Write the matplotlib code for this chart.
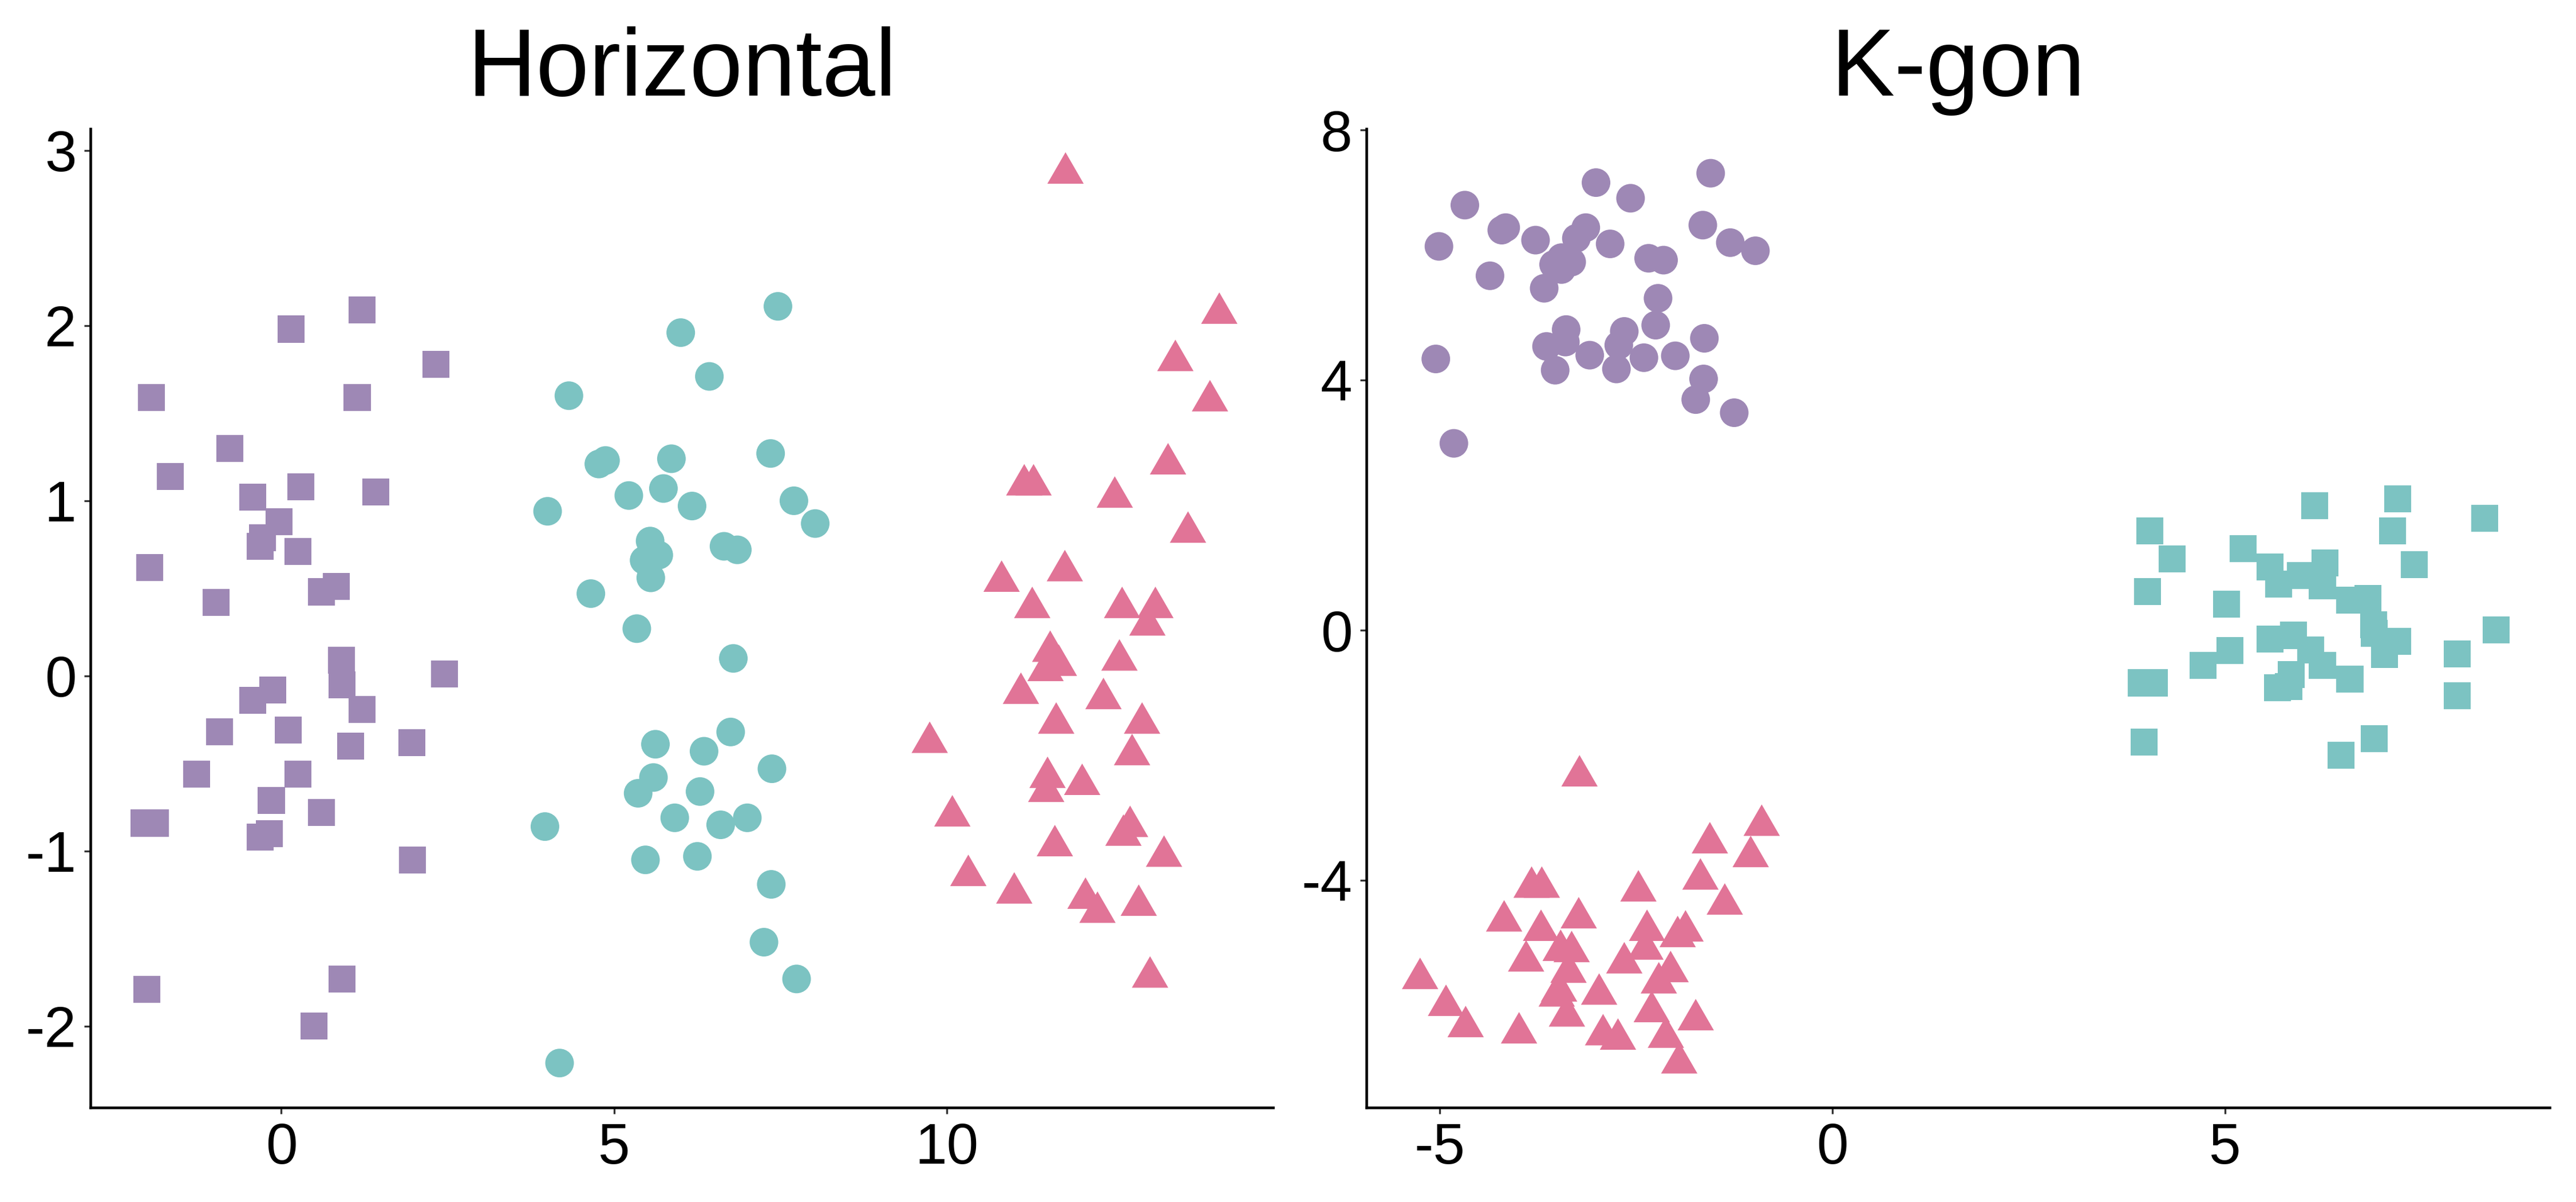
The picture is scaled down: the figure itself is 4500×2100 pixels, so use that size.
import numpy as np
import matplotlib
matplotlib.use("Agg")
import matplotlib.pyplot as plt
from matplotlib.path import Path

plt.rcParams['font.family'] = ['Liberation Sans', 'DejaVu Sans']

# ---------------- data ----------------
titles = ["Horizontal", "K-gon"]

# Horizontal panel
h_sq_x = [-1.95, 0.15, 1.21, 2.32, 1.14, -0.77, -1.67, -0.43, 0.29, 1.42, -0.03, -0.28, -0.32, 0.25,
          -1.98, -0.98, 0.60, 0.83, 0.90, 0.91, 2.45, -0.13, -0.43, 1.21, 0.10, -0.93, 1.04, 1.96,
          -1.27, 0.25, -0.15, 0.60, -2.06, -1.89, -0.18, -0.32, 1.97, -2.02, 0.91, 0.49]
h_sq_y = [1.59, 1.98, 2.09, 1.78, 1.59, 1.30, 1.14, 1.02, 1.08, 1.05, 0.88, 0.79, 0.74, 0.71,
          0.62, 0.42, 0.48, 0.51, 0.09, -0.05, 0.01, -0.08, -0.14, -0.19, -0.31, -0.32, -0.40, -0.38,
          -0.56, -0.56, -0.71, -0.78, -0.84, -0.84, -0.90, -0.92, -1.05, -1.79, -1.73, -2.00]

h_ci_x = [7.46, 6.00, 6.43, 4.32, 7.35, 4.77, 4.87, 5.86, 5.22, 5.74, 6.17, 7.70, 8.02, 4.00,
          5.54, 5.67, 5.45, 5.55, 6.65, 6.85, 4.65, 5.34, 6.79, 6.75, 5.62, 6.35, 7.37, 5.59,
          5.36, 6.29, 5.91, 6.60, 7.00, 3.96, 5.47, 6.25, 7.36, 7.25, 7.74, 4.18]
h_ci_y = [2.11, 1.96, 1.71, 1.60, 1.27, 1.21, 1.23, 1.24, 1.03, 1.07, 0.97, 1.00, 0.87, 0.94,
          0.77, 0.69, 0.66, 0.56, 0.74, 0.72, 0.47, 0.27, 0.10, -0.32, -0.39, -0.43, -0.53, -0.58,
          -0.67, -0.66, -0.81, -0.85, -0.81, -0.86, -1.05, -1.03, -1.19, -1.52, -1.73, -2.21]

h_tr_x = [11.78, 14.09, 13.43, 13.95, 13.32, 11.16, 11.30, 12.52, 13.62, 10.82, 11.77, 11.28, 12.63,
          13.13, 13.01, 11.55, 11.68, 11.48, 12.59, 11.11, 12.35, 9.74, 11.64, 12.93, 12.78, 11.51,
          11.49, 12.03, 10.08, 11.62, 12.75, 12.65, 13.26, 10.32, 11.01, 12.08, 12.26, 12.88, 13.05]
h_tr_y = [2.87, 2.07, 1.80, 1.57, 1.21, 1.09, 1.09, 1.02, 0.82, 0.54, 0.60, 0.39, 0.39,
          0.39, 0.29, 0.14, 0.06, 0.03, 0.09, -0.10, -0.13, -0.38, -0.27, -0.27, -0.45, -0.58,
          -0.66, -0.62, -0.80, -0.97, -0.86, -0.91, -1.03, -1.14, -1.24, -1.27, -1.35, -1.31, -1.72]

# K-gon panel
k_ci_x = [-1.55, -3.01, -2.57, -4.68, -1.65, -4.16, -4.21, -3.78, -3.14, -3.26, -2.83, -5.01, -1.30,
          -0.98, -2.34, -2.15, -3.45, -3.32, -3.55, -3.45, -4.36, -3.67, -2.22, -2.25, -3.39, -2.65,
          -1.63, -3.64, -3.40, -2.72, -3.09, -5.05, -2.40, -2.00, -3.53, -2.75, -1.64, -1.74, -1.25, -4.82]
k_ci_y = [7.31, 7.16, 6.91, 6.80, 6.48, 6.44, 6.40, 6.24, 6.44, 6.27, 6.18, 6.14, 6.20,
          6.07, 5.95, 5.92, 5.96, 5.89, 5.85, 5.77, 5.67, 5.47, 5.31, 4.88, 4.81, 4.78,
          4.67, 4.54, 4.61, 4.56, 4.40, 4.34, 4.36, 4.39, 4.16, 4.18, 4.02, 3.69, 3.48, 2.99]

k_tr_x = [-3.22, -0.90, -1.56, -1.04, -1.68, -3.83, -3.70, -2.47, -1.37, -4.18, -3.23, -3.71, -2.36,
          -1.87, -1.97, -3.46, -3.32, -3.90, -2.65, -2.38, -3.36, -2.06, -2.21, -5.25, -2.97, -3.48,
          -3.51, -3.38, -4.92, -2.30, -1.74, -4.67, -3.99, -2.92, -2.73, -2.12, -1.95]
k_tr_y = [-2.33, -3.12, -3.40, -3.62, -3.98, -4.11, -4.11, -4.17, -4.38, -4.65, -4.60, -4.80, -4.80,
          -4.81, -4.90, -5.12, -5.14, -5.29, -5.32, -5.10, -5.47, -5.46, -5.64, -5.57, -5.82, -5.77,
          -5.85, -6.17, -6.00, -6.10, -6.23, -6.34, -6.44, -6.47, -6.54, -6.51, -6.92]

k_sq_x = [6.14, 7.20, 8.31, 4.04, 7.13, 4.33, 5.23, 5.57, 6.27, 7.41, 4.01, 5.68, 5.96, 6.24,
          5.02, 6.59, 6.82, 6.89, 6.90, 7.20, 7.03, 8.45, 5.57, 5.87, 6.09, 6.24, 5.06, 4.72,
          7.96, 5.84, 5.81, 5.67, 6.59, 3.93, 4.10, 7.96, 3.97, 6.90, 6.48]
k_sq_y = [1.99, 2.10, 1.79, 1.59, 1.59, 1.14, 1.31, 1.01, 1.08, 1.05, 0.62, 0.74, 0.88, 0.71,
          0.42, 0.48, 0.51, 0.09, -0.05, -0.18, -0.39, 0.01, -0.14, -0.08, -0.31, -0.56, -0.32, -0.56,
          -0.38, -0.71, -0.90, -0.92, -0.78, -0.84, -0.84, -1.05, -1.79, -1.73, -2.00]

h_xticks = [0, 5, 10]
h_yticks = [-2, -1, 0, 1, 2, 3]
k_xticks = [-5, 0, 5]
k_yticks = [-4, 0, 4, 8]

# ---------------- style ----------------
PURPLE = "#9E88B5"
TEAL = "#7CC3C2"
PINK = "#E17497"

# equilateral triangle centred on its centroid (as ggplot's filled triangle)
h = np.sqrt(3) / 2
tri = Path([(0, 2 * h / 3), (0.5, -h / 3), (-0.5, -h / 3), (0, 2 * h / 3)],
           [Path.MOVETO, Path.LINETO, Path.LINETO, Path.CLOSEPOLY])

S_CIRCLE = 12.0 ** 2
S_SQUARE = 11.3 ** 2
S_TRI = 17.6 ** 2

fig = plt.figure(figsize=(15, 7), dpi=300)
ax1 = fig.add_axes([0.0351, 0.0786, 0.4591, 0.8143])
ax2 = fig.add_axes([0.5304, 0.0786, 0.4594, 0.8143])


def style(ax, title, xt, yt):
    for s in ["top", "right"]:
        ax.spines[s].set_visible(False)
    for s in ["left", "bottom"]:
        ax.spines[s].set_linewidth(1.1)
        ax.spines[s].set_color("black")
    ax.set_xticks(xt)
    ax.set_yticks(yt)
    ax.set_xticklabels([str(v).replace("\u2212", "-") for v in xt])
    ax.set_yticklabels([str(v).replace("\u2212", "-") for v in yt])
    ax.tick_params(axis="both", length=2.7, width=0.8, color="#333333",
                   labelsize=24, labelcolor="black", pad=3.2)
    ax.margins(x=0.05, y=0.05)
    ax.set_title(title, fontsize=40, pad=14)


kw = dict(linewidths=0, edgecolors="none")
ax1.scatter(h_sq_x, h_sq_y, marker="s", s=S_SQUARE, color=PURPLE, **kw)
ax1.scatter(h_ci_x, h_ci_y, marker="o", s=S_CIRCLE, color=TEAL, **kw)
ax1.scatter(h_tr_x, h_tr_y, marker=tri, s=S_TRI, color=PINK, **kw)
style(ax1, titles[0], h_xticks, h_yticks)

ax2.scatter(k_ci_x, k_ci_y, marker="o", s=S_CIRCLE, color=PURPLE, **kw)
ax2.scatter(k_tr_x, k_tr_y, marker=tri, s=S_TRI, color=PINK, **kw)
ax2.scatter(k_sq_x, k_sq_y, marker="s", s=S_SQUARE, color=TEAL, **kw)
style(ax2, titles[1], k_xticks, k_yticks)

fig.savefig("out.png", dpi=300, facecolor="white")
